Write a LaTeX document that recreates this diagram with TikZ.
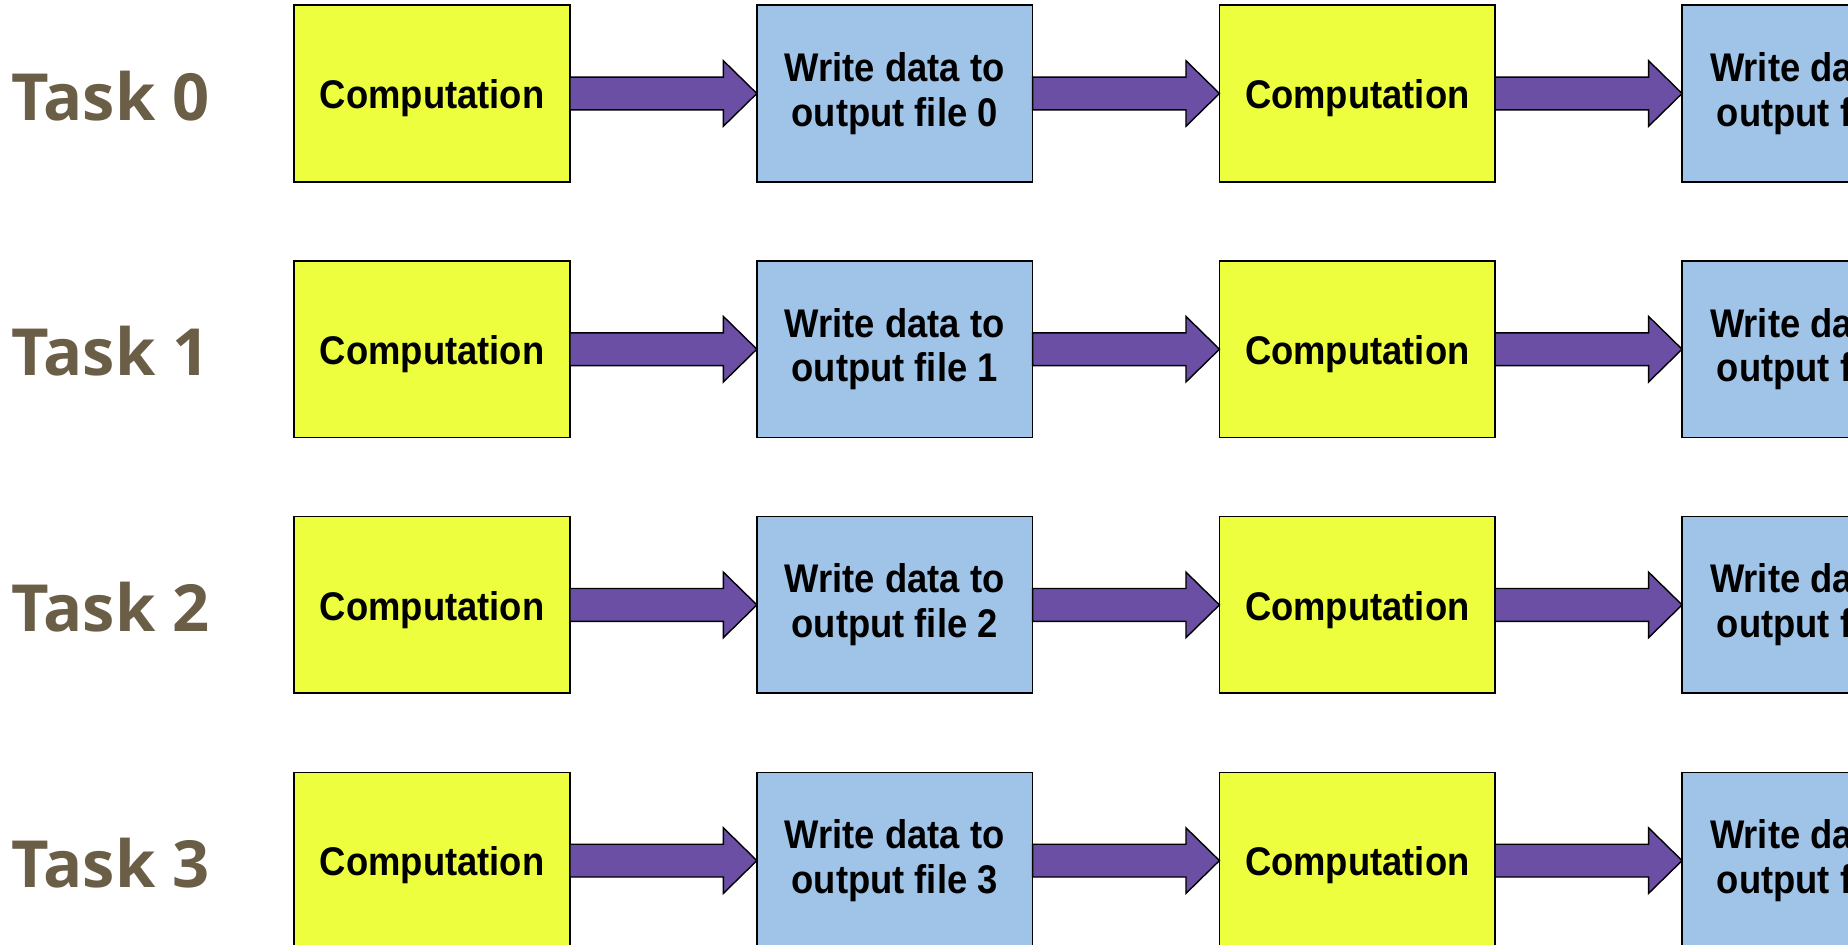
\documentclass[tikz,border=0pt]{standalone}
\usepackage{fontspec}
\setmainfont{Liberation Sans}
\newfontfamily\boxfont{Liberation Sans}[FakeStretch=0.91]
\newfontfamily\taskfont{Open Sans}
\definecolor{compfill}{HTML}{ECFE3E}
\definecolor{writefill}{HTML}{A0C4E8}
\definecolor{arrowfill}{HTML}{6A4FA5}
\definecolor{taskcol}{HTML}{6B5E47}
\tikzset{
  stagebox/.style={draw=black, line width=1.6pt, minimum width=275.7pt, minimum height=176.5pt,
    inner sep=0pt, outer sep=0pt, align=center, text=black,
    font=\boxfont\bfseries\fontsize{40}{44.5}\selectfont},
  compbox/.style={stagebox, fill=compfill, execute at begin node={\rule{0pt}{38.5pt}}},
  writebox/.style={stagebox, fill=writefill, execute at begin node={\rule{0pt}{45pt}}},
  flowarrow/.style={draw=black, line width=1.4pt, fill=arrowfill, line join=miter},
  tasklabel/.style={anchor=base west, inner sep=0pt, text=taskcol,
    font=\taskfont\bfseries\fontsize{65}{70}\selectfont}
}
\begin{document}
\begin{tikzpicture}[x=1pt,y=-1pt]
\useasboundingbox (0,0) rectangle (1848,945);
\foreach \r in {0,1,2,3}{
  \pgfmathsetmacro{\yc}{93.5+255.7*\r}
  \node[tasklabel] (t\r) at (11,{\yc+26.5}) {Task \r};
  \node[compbox]  (a\r) at (432.1,\yc) {Computation};
  \node[writebox] (b\r) at (894.7,\yc) {Write data to\\output file \r};
  \node[compbox]  (c\r) at (1357.3,\yc) {Computation};
  \node[writebox] (d\r) at (1819.9,\yc) {Write data to\\output file \r};
  \foreach \p/\q in {a/b,b/c,c/d}{
    \draw[flowarrow] ([yshift=16.4pt]\p\r.east) -- ([xshift=-33.5pt,yshift=16.4pt]\q\r.west)
      -- ([xshift=-33.5pt,yshift=32.8pt]\q\r.west) -- (\q\r.west)
      -- ([xshift=-33.5pt,yshift=-32.8pt]\q\r.west) -- ([xshift=-33.5pt,yshift=-16.4pt]\q\r.west)
      -- ([yshift=-16.4pt]\p\r.east) -- cycle;
  }
}
\end{tikzpicture}
\end{document}
